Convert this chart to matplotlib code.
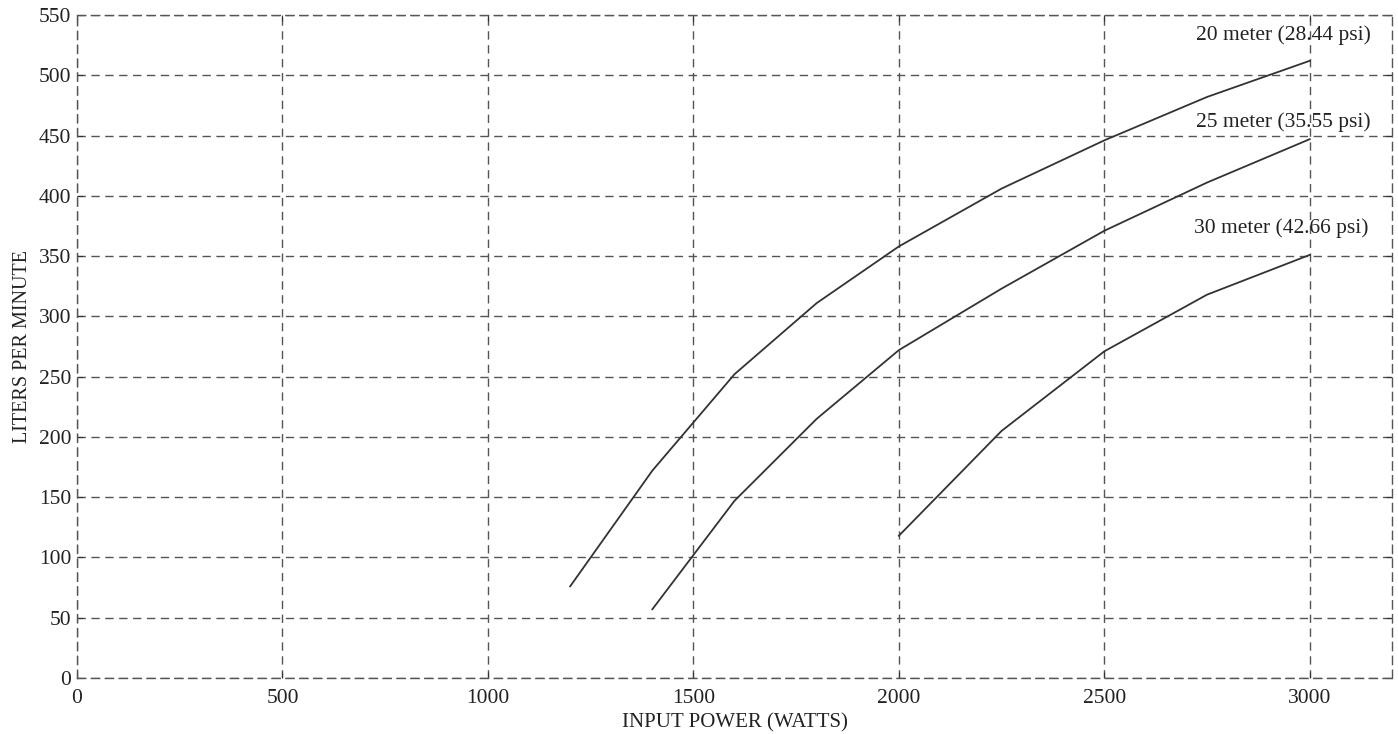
import matplotlib
matplotlib.use("Agg")
import matplotlib.pyplot as plt

plt.rcParams['font.family'] = ['Liberation Serif', 'DejaVu Serif']

x_20 = [1200, 1400, 1600, 1800, 2000, 2250, 2500, 2750, 3000]
y_20 = [76, 172, 252, 311, 358, 406, 446, 482, 512]
x_25 = [1400, 1600, 1800, 2000, 2250, 2500, 2750, 3000]
y_25 = [57, 147, 215, 272, 323, 371, 411, 447]
x_30 = [2000, 2250, 2500, 2750, 3000]
y_30 = [118, 205, 271, 318, 351]
labels = ["20 meter (28.44 psi)", "25 meter (35.55 psi)", "30 meter (42.66 psi)"]
label_pos = [(2935, 533), (2935, 461), (2930, 373)]
x_ticks = [0, 500, 1000, 1500, 2000, 2500, 3000]
y_ticks = list(range(0, 551, 50))

fig = plt.figure(figsize=(13.98, 7.34), dpi=100)
ax = fig.add_axes([0.0551, 0.0763, 0.9406, 0.9033])

for xs, ys in [(x_20, y_20), (x_25, y_25), (x_30, y_30)]:
    ax.plot(xs, ys, color='#333333', lw=1.3)

for lab, (lx, ly) in zip(labels, label_pos):
    ax.text(lx, ly, lab, ha='center', va='center', fontsize=15.5, color='#222222')

ax.set_xlim(0, 3200)
ax.set_ylim(0, 550)
ax.set_xticks(x_ticks)
ax.set_yticks(y_ticks)
ax.tick_params(direction='in', top=True, right=True, length=4, labelsize=15.5,
               colors='#333333', labelcolor='#222222')
ax.tick_params(axis='x', pad=8)
ax.tick_params(axis='y', pad=4)
ax.grid(True, linestyle=(0, (6, 4)), color='#555555', lw=1.0)
for s in ax.spines.values():
    s.set_linestyle((0, (6, 4)))
    s.set_color('#555555')
    s.set_linewidth(1.0)

ax.set_xlabel('INPUT POWER (WATTS)', fontsize=15, color='#222222', labelpad=4)
ax.set_ylabel('LITERS PER MINUTE', fontsize=14.5, color='#222222', labelpad=5)

fig.savefig('out.png', dpi=100)
